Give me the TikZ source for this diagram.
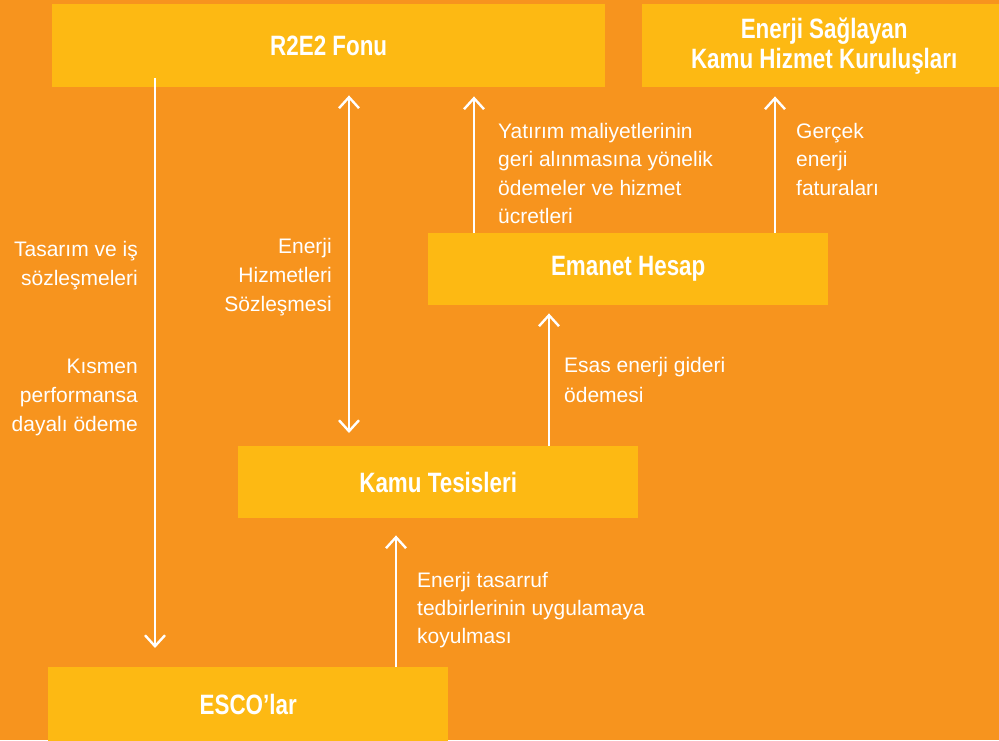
\documentclass[tikz,border=0pt]{standalone}
\usepackage{fontspec}
\setmainfont{Liberation Sans}
\newfontfamily\boxfont{Liberation Sans}[FakeStretch=0.8]
\usetikzlibrary{arrows.meta}
\definecolor{bgorange}{HTML}{F7941E}
\definecolor{boxyellow}{HTML}{FDB913}
\begin{document}
\begin{tikzpicture}[x=1pt,y=-1pt,
  box/.style={fill=boxyellow, draw=none, anchor=north west, inner sep=0pt,
    text=white, align=center, font=\boxfont\bfseries\fontsize{28}{30}\selectfont},
  lbl/.style={text=white, inner sep=0pt, font=\fontsize{21}{29}\selectfont},
  lblr/.style={lbl, anchor=north east, align=right},
  lbll/.style={lbl, anchor=north west, align=left},
  arr/.style={draw=white, line width=2.4pt,
    -{Straight Barb[length=11pt,width=20pt,line width=2.4pt]}},
  darr/.style={draw=white, line width=2.4pt,
    {Straight Barb[length=11pt,width=20pt,line width=2.4pt]}-{Straight Barb[length=11pt,width=20pt,line width=2.4pt]}}
]
\fill[bgorange] (0,0) rectangle (999,740);
\useasboundingbox (0,0) rectangle (999,740);

% boxes
\node[box, minimum width=553, minimum height=83] (r2e2) at (52,4) {R2E2 Fonu};
\node[box, minimum width=364, minimum height=83] (util) at (642,4) {Enerji Sağlayan\\Kamu Hizmet Kuruluşları};
\node[box, minimum width=400, minimum height=72] (emanet) at (428,233) {Emanet Hesap};
\node[box, minimum width=400, minimum height=72] (kamu) at (238,446) {Kamu Tesisleri};
\node[box, minimum width=400, minimum height=74] (esco) at (48,667) {ESCO’lar};

% connectors
\draw[arr, shorten <=-9pt, shorten >=19pt] (r2e2.south -| 155,0) -- (esco.north -| 155,0);
\draw[darr, shorten <=8pt, shorten >=13pt] (r2e2.south -| 349,0) -- (kamu.north -| 349,0);
\draw[arr, shorten >=9pt] (emanet.north -| 474,0) -- (r2e2.south -| 474,0);
\draw[arr, shorten >=9pt] (emanet.north -| 775,0) -- (util.south -| 775,0);
\draw[arr, shorten >=8pt] (kamu.north -| 549,0) -- (emanet.south -| 549,0);
\draw[arr, shorten >=17pt] (esco.north -| 396,0) -- (kamu.south -| 396,0);

% labels
\node[lblr] (l1) at (138,241) {Tasarım ve iş\\sözleşmeleri};
\node[lblr] (l2) at (138,359) {Kısmen\\performansa\\dayalı ödeme};
\node[lblr] (l3) at (332,238) {Enerji\\Hizmetleri\\Sözleşmesi};
\node[lbll, font=\fontsize{21}{28.3}\selectfont] (l4) at (498,123) {Yatırım maliyetlerinin\\geri alınmasına yönelik\\ödemeler ve hizmet\\ücretleri};
\node[lbll, font=\fontsize{21}{28.5}\selectfont] (l5) at (796,123) {Gerçek\\enerji\\faturaları};
\node[lbll, font=\fontsize{21}{30}\selectfont] (l6) at (564,357) {Esas enerji gideri\\ödemesi};
\node[lbll, font=\fontsize{21}{28}\selectfont] (l7) at (417,572) {Enerji tasarruf\\tedbirlerinin uygulamaya\\koyulması};
\end{tikzpicture}
\end{document}
